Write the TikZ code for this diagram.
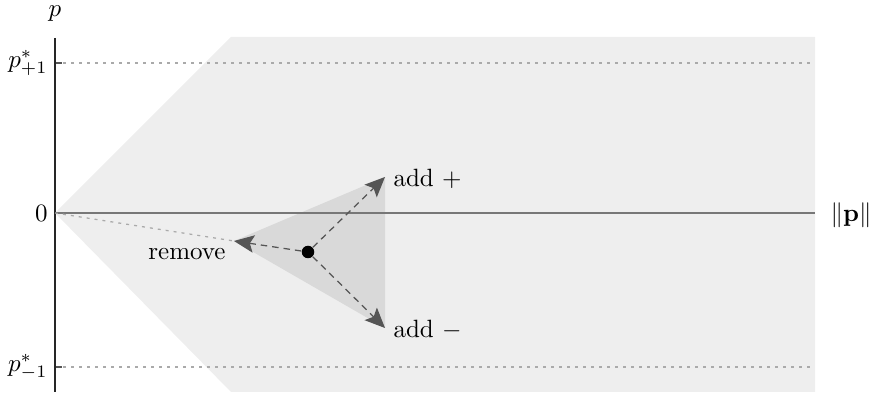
\documentclass[tikz,border=0pt]{standalone}
\usetikzlibrary{arrows.meta}
\definecolor{regiongray}{HTML}{EEEEEE}
\definecolor{trigray}{HTML}{D9D9D9}
\definecolor{axisgray}{HTML}{777777}
\definecolor{arrowgray}{HTML}{555555}
\definecolor{dotgray}{HTML}{AAAAAA}
\tikzset{
  movearrow/.style={draw=arrowgray, line width=0.5pt, dash pattern=on 2.6pt off 2pt, -{Stealth[length=8pt,width=7pt,inset=1.6pt]}},
  levelline/.style={draw=dotgray, line width=0.5pt, dash pattern=on 1.2pt off 2pt},
  lab/.style={inner sep=0pt, font=\normalsize}
}
\begin{document}
\begin{tikzpicture}[x=0.4pt,y=-0.4pt]
\useasboundingbox (0,0) rectangle (872,398);
% region
\fill[regiongray] (55,213) -- (231,37) -- (815,37) -- (815,392) -- (231,392) -- cycle;
% triangle
\coordinate (vl) at (234,241);
\coordinate (vt) at (385,177);
\coordinate (vb) at (385,328);
\fill[trigray] (vl) -- (vt) -- (vb) -- cycle;
% level lines
\coordinate (o) at (55,213);
\coordinate (lp0) at (55,63);
\coordinate (lp1) at (815,63);
\coordinate (lm0) at (55,367);
\coordinate (lm1) at (815,367);
\draw[levelline] (lp0) -- (lp1);
\draw[levelline] (lm0) -- (lm1);
\draw[arrowgray, line width=0.8pt] (lp0) -- ++(7,0);
\draw[arrowgray, line width=0.8pt] (lm0) -- ++(7,0);
% axes
\coordinate (xend) at (815,213);
\coordinate (ytop) at (55,38);
\coordinate (ybot) at (55,392);
\draw[axisgray, line width=1pt] (o) -- (xend);
\draw[black!85, line width=0.6pt] (ytop) -- (ybot);
% dotted to remove vertex
\draw[draw=dotgray, line width=0.5pt, dash pattern=on 1.2pt off 2pt] (o) -- (vl);
% dot
\node[circle, fill=black, minimum size=5pt, inner sep=0pt] (pt) at (308,252) {};
\draw[movearrow] (pt) -- (vt);
\draw[movearrow] (pt) -- (vb);
\draw[movearrow] (pt) -- (vl);
% labels
\node[lab] (lp) at (55,14) {$p$};
\node[lab, anchor=east] (lpp) at (48,63) {$p^*_{+1}$};
\node[lab, anchor=east] (lz) at (48,213) {$0$};
\node[lab, anchor=east] (lpm) at (48,367) {$p^*_{-1}$};
\node[lab] (lx) at (851,215) {$\|\mathbf{p}\|$};
\node[lab, anchor=west] (ladd) at (393,179) {add $+$};
\node[lab, anchor=west] (lsub) at (393,330) {add $-$};
\node[lab] (lrem) at (187,254) {remove};
\end{tikzpicture}
\end{document}
